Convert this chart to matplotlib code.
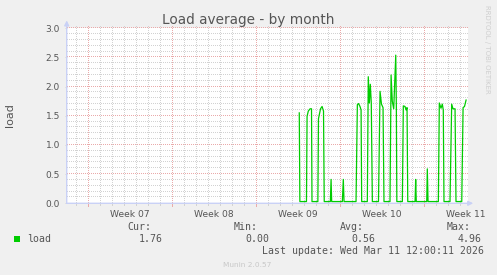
"""
Munin style 'Load average - by month' graph
"""

import numpy as np
import matplotlib
matplotlib.use('Agg')
import matplotlib.pyplot as plt
from matplotlib.transforms import blended_transform_factory

# time axis in days from the left edge of the graph
span_days = 33.44
first_day = 0.75      # first midnight on the graph
first_monday = 1.75
week_names = ['Week 07', 'Week 08', 'Week 09', 'Week 10', 'Week 11']

# load average samples (days, load)
t_days = [19.38, 19.43, 19.98, 20.03, 20.13, 20.28, 20.40, 20.44,
          20.93, 20.98, 21.15, 21.28, 21.40, 21.46,
          21.97, 22.03, 22.08, 22.97, 23.05, 23.11,
          24.11, 24.22, 24.32, 24.44, 24.53, 24.58,
          25.05, 25.13, 25.22, 25.30, 25.38, 25.47,
          25.98, 26.11, 26.23, 26.36, 26.44,
          26.94, 27.03, 27.13, 27.25, 27.42, 27.47, 27.51,
          27.97, 28.05, 28.19, 28.28, 28.36, 28.42,
          29.03, 29.08, 29.13, 30.00, 30.05, 30.11,
          30.97, 31.05, 31.19, 31.30, 31.38, 31.44,
          31.94, 32.08, 32.19, 32.36, 32.44,
          32.92, 33.03, 33.15, 33.28]
load = [1.55, 0.03, 0.03, 1.49, 1.58, 1.62, 1.62, 0.03,
        0.03, 1.45, 1.62, 1.66, 1.58, 0.03,
        0.03, 0.41, 0.03, 0.03, 0.41, 0.03,
        0.03, 1.69, 1.71, 1.66, 1.60, 0.03,
        0.03, 2.17, 1.72, 2.04, 1.72, 0.03,
        0.03, 1.92, 1.70, 1.64, 0.03,
        0.03, 2.20, 1.75, 1.62, 2.54, 1.65, 0.03,
        0.03, 1.67, 1.66, 1.60, 1.64, 0.03,
        0.03, 0.41, 0.03, 0.03, 0.59, 0.03,
        0.03, 1.72, 1.63, 1.70, 1.60, 0.03,
        0.03, 1.70, 1.62, 1.62, 0.03,
        0.03, 1.64, 1.66, 1.77]

legend_heads = ['Cur:', 'Min:', 'Avg:', 'Max:']
legend_vals = ['1.76', '0.00', '0.56', '4.96']
last_update = 'Last update: Wed Mar 11 12:00:11 2026'

# colours
back = '#f0f0f0'
font_col = '#555555'
grid_col = '#d2d2d2'
mgrid_col = '#eaaaaa'
axis_col = '#c9d1f6'
line_col = '#00cc00'

W, H = 497, 275
fig = plt.figure(figsize=(W / 100, H / 100), dpi=100, facecolor=back)


def fx(x):
    return x / W


def fy(y):
    return 1 - y / H


ax_w, ax_h = 468 - 66.7, 175
ax = fig.add_axes([fx(66.7), fy(203.3), ax_w / W, ax_h / H])
ax.set_facecolor('white')
for s in ax.spines.values():
    s.set_visible(False)
ymax = 3.0
ax.set_xlim(0, span_days)
ax.set_ylim(0, ymax)

# dotted grid, one pixel dot every second pixel
step_x = 2 * span_days / ax_w
step_y = 2 * ymax / ax_h


def vdots(xs, color):
    yy = np.arange(0, ymax + 2.5 * step_y / 2, step_y)
    for x in xs:
        ax.plot(np.full_like(yy, x), yy, ',', color=color, clip_on=False,
                zorder=1)


def hdots(ys, color):
    xx = np.arange(0, span_days, step_x)
    for y in ys:
        ax.plot(xx, np.full_like(xx, y), ',', color=color, clip_on=False,
                zorder=1)


days = np.arange(first_day, span_days, 1.0)
mondays = np.arange(first_monday, span_days, 7.0)
minor_days = [d for d in days if not np.any(np.isclose(d, mondays))]
yminor = np.round(np.arange(0.1, ymax, 0.1), 2)
ymajor = np.round(np.arange(0.0, ymax + 0.01, 0.5), 2)
yminor = [y for y in yminor if not np.any(np.isclose(y, ymajor))]

hdots(yminor, grid_col)
vdots(minor_days, grid_col)
hdots(ymajor[1:], mgrid_col)
vdots(mondays, mgrid_col)

# tick marks under the x axis
trans = blended_transform_factory(ax.transData, ax.transAxes)
ax.vlines(minor_days, -0.012, 0, transform=trans, colors=grid_col, lw=0.72,
          antialiased=False, clip_on=False)
ax.vlines(mondays, -0.018, 0, transform=trans, colors=mgrid_col, lw=0.72,
          antialiased=False, clip_on=False)

# axes with arrows
ax.annotate('', xy=(1.013, 0), xytext=(0, 0), xycoords='axes fraction',
            arrowprops=dict(arrowstyle='-|>', color=axis_col, lw=1.0,
                            mutation_scale=7, shrinkA=0, shrinkB=0),
            annotation_clip=False, zorder=3)
ax.annotate('', xy=(0, 1.045), xytext=(0, 0), xycoords='axes fraction',
            arrowprops=dict(arrowstyle='-|>', color=axis_col, lw=1.0,
                            mutation_scale=7, shrinkA=0, shrinkB=0),
            annotation_clip=False, zorder=3)

# ticks and labels
ax.set_yticks(ymajor, [f'{v:.1f}' for v in ymajor])
week_mid = [m + 3.5 for m in mondays]
ax.set_xticks(week_mid, week_names)
ax.tick_params(axis='y', length=1.8, width=0.7, color=grid_col, pad=3.0,
               labelsize=6.5, labelcolor=font_col)
ax.tick_params(axis='x', length=0, pad=4.5, labelsize=6.6,
               labelcolor=font_col)

ax.plot(t_days, load, color=line_col, lw=0.9, zorder=4)

# texts
fig.text(fx(248), fy(24), 'Load average - by month', ha='center',
         va='baseline', fontsize=9.8, color=font_col)
fig.text(fx(10), fy(115.5), 'load', rotation=90, ha='center', va='center',
         fontsize=8, color=font_col)
fig.text(fx(487.5), fy(5), 'RRDTOOL / TOBI OETIKER', rotation=-90,
         ha='center', va='top', fontsize=5, color='#cfcfcf')

mono = dict(family='DejaVu Sans Mono', fontsize=7.1, color=font_col,
            va='baseline')
head_x = [127, 233.3, 340, 446.7]
val_x = [139, 245.5, 351.7, 458]
for hx, h in zip(head_x, legend_heads):
    fig.text(fx(hx), fy(230.5), h, **mono)
for vx, v in zip(val_x, legend_vals):
    fig.text(fx(vx), fy(242.3), v, **mono)
fig.text(fx(27), fy(242.3), 'load', **mono)
fig.patches.append(plt.Rectangle((fx(14), fy(242)), 6 / W, 6 / H,
                                 transform=fig.transFigure,
                                 facecolor=line_col, edgecolor='none'))
fig.text(fx(261.7), fy(254.3), last_update, **mono)
fig.text(fx(223.3), fy(266.7), 'Munin 2.0.57', fontsize=5.3,
         color='#c8c8c8', va='baseline')

fig.savefig('out.png', dpi=100, facecolor=back)
